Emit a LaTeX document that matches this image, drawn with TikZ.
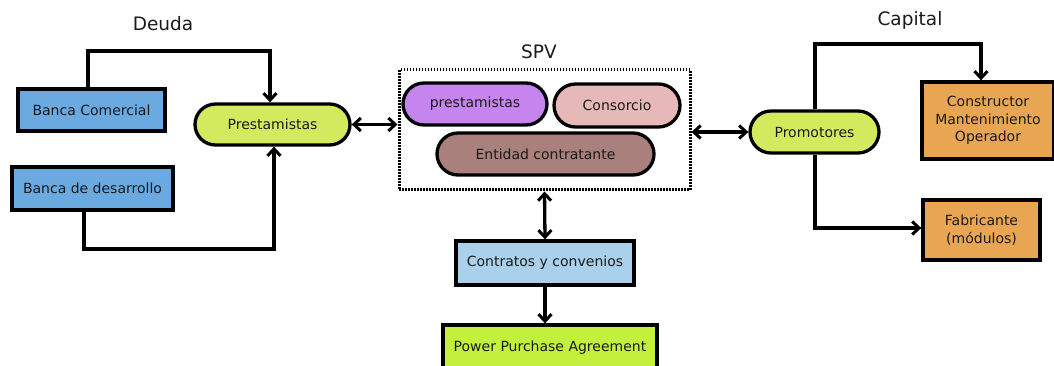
\documentclass[tikz,border=0pt]{standalone}
\usepackage{fontspec}
\setmainfont{DejaVu Sans}
\usetikzlibrary{arrows.meta,positioning,shapes.misc}
\definecolor{cblue}{HTML}{6AAAE0}
\definecolor{cgreen}{HTML}{D4EA5E}
\definecolor{cpurple}{HTML}{C684EE}
\definecolor{cpink}{HTML}{E6B8B8}
\definecolor{cbrown}{HTML}{A9807B}
\definecolor{clblue}{HTML}{A9D1EC}
\definecolor{clime}{HTML}{C2F03C}
\definecolor{corange}{HTML}{E9A652}
\definecolor{ctext}{HTML}{1A1A1A}
\tikzset{
  base/.style={draw=black,line width=3.3pt,text=ctext,font=\fontsize{14}{17.5}\selectfont,inner sep=0pt,align=center},
  conn/.style={line width=3.3pt,-{Straight Barb[length=7pt,width=13pt,line width=3pt]}},
  dconn/.style={line width=3.3pt,{Straight Barb[length=7pt,width=13pt,line width=3pt]}-{Straight Barb[length=7pt,width=13pt,line width=3pt]}},
  title/.style={text=ctext,font=\fontsize{18.5}{20}\selectfont}
}
\begin{document}
\begin{tikzpicture}[x=1pt,y=-1pt]
\useasboundingbox (0,0) rectangle (1054,366);
% titles
\node[title] (deuda) at (163,24) {Deuda};
\node[title] (spvl) at (539,52) {SPV};
\node[title] (capital) at (910,20) {Capital};
% left
\node[base,fill=cblue,minimum width=147pt,minimum height=42pt] (bc) at (91.5,110) {Banca Comercial};
\node[base,fill=cblue,minimum width=161pt,minimum height=43pt] (bd) at (92.5,188.5) {Banca de desarrollo};
\node[base,rounded rectangle,fill=cgreen,minimum width=155pt,minimum height=41pt] (pre) at (272.5,124.5) {Prestamistas};
% SPV
\node[draw=black,line width=3pt,dash pattern=on 1.5pt off 1.5pt,minimum width=291pt,minimum height=120pt,inner sep=0pt] (spv) at (544.5,130) {};
\node[base,rounded rectangle,fill=cpurple,minimum width=144pt,minimum height=42pt] (p2) at (475,104) {prestamistas};
\node[base,rounded rectangle,fill=cpink,minimum width=126pt,minimum height=43pt] (cons) at (617,105.5) {Consorcio};
\node[base,rounded rectangle,fill=cbrown,minimum width=217pt,minimum height=42pt] (ent) at (545.5,154) {Entidad contratante};
% right
\node[base,rounded rectangle,fill=cgreen,minimum width=129pt,minimum height=42pt] (prom) at (814.5,132) {Promotores};
\node[base,fill=corange,minimum width=132pt,minimum height=77pt] (cons2) at (988,120.5) {Constructor\\Mantenimiento\\Operador};
\node[base,fill=corange,minimum width=117pt,minimum height=60pt] (fab) at (981.5,230) {Fabricante\\(módulos)};
% bottom
\node[base,fill=clblue,minimum width=178pt,minimum height=44pt] (contr) at (545,263) {Contratos y convenios};
\node[base,fill=clime,minimum width=214pt,minimum height=46pt] (ppa) at (550,348) {Power Purchase Agreement};
% connectors
\coordinate (c1) at (88,51);
\coordinate (c2) at (270,51);
\draw[conn] (bc.north -| c1) -- (c1) -- (c2) -- (pre.north -| c2);
\coordinate (d1) at (84,249);
\coordinate (d2) at (274,249);
\draw[conn] (bd.south -| d1) -- (d1) -- (d2) -- (pre.south -| d2);
\draw[dconn] (pre.east) -- (spv.west |- pre.east);
\draw[dconn] (spv.east |- prom.west) -- (prom.west);
\coordinate (e1) at (815,44);
\coordinate (e2) at (981,44);
\draw[conn] (prom.north -| e1) -- (e1) -- (e2) -- (cons2.north -| e2);
\coordinate (f1) at (815,228);
\draw[conn] (prom.south -| f1) -- (f1) -- (fab.west |- f1);
\draw[dconn] (spv.south) -- (contr.north);
\draw[conn] (contr.south) -- (contr.south |- ppa.north);
\end{tikzpicture}
\end{document}
